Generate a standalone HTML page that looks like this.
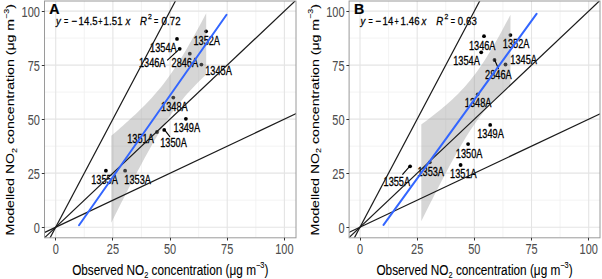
<!DOCTYPE html>
<html><head><meta charset="utf-8"><style>
html,body{margin:0;padding:0;background:#fff;width:602px;height:279px;overflow:hidden;position:relative}
svg text{font-family:"Liberation Sans",sans-serif;stroke-width:0.22px}
</style></head><body>
<svg width="602" height="279" viewBox="0 0 602 279" style="position:absolute;left:0;top:0">
<defs>
<clipPath id="clipA"><rect x="44.5" y="1.0" width="251.5" height="236.8"/></clipPath>
<clipPath id="clipB"><rect x="349.1" y="1.0" width="250.89999999999998" height="236.8"/></clipPath>
</defs>
<rect width="602" height="279" fill="#fff"/>
<g clip-path="url(#clipA)">
<line x1="84.29" y1="1.0" x2="84.29" y2="237.8" stroke="#F0F0F0" stroke-width="0.8"/>
<line x1="44.5" y1="200.19" x2="296.0" y2="200.19" stroke="#F0F0F0" stroke-width="0.8"/>
<line x1="141.46" y1="1.0" x2="141.46" y2="237.8" stroke="#F0F0F0" stroke-width="0.8"/>
<line x1="44.5" y1="146.16" x2="296.0" y2="146.16" stroke="#F0F0F0" stroke-width="0.8"/>
<line x1="198.64" y1="1.0" x2="198.64" y2="237.8" stroke="#F0F0F0" stroke-width="0.8"/>
<line x1="44.5" y1="92.14" x2="296.0" y2="92.14" stroke="#F0F0F0" stroke-width="0.8"/>
<line x1="255.81" y1="1.0" x2="255.81" y2="237.8" stroke="#F0F0F0" stroke-width="0.8"/>
<line x1="44.5" y1="38.11" x2="296.0" y2="38.11" stroke="#F0F0F0" stroke-width="0.8"/>
<line x1="55.70" y1="1.0" x2="55.70" y2="237.8" stroke="#E4E4E4" stroke-width="1.1"/>
<line x1="44.5" y1="227.20" x2="296.0" y2="227.20" stroke="#E4E4E4" stroke-width="1.1"/>
<line x1="112.88" y1="1.0" x2="112.88" y2="237.8" stroke="#E4E4E4" stroke-width="1.1"/>
<line x1="44.5" y1="173.17" x2="296.0" y2="173.17" stroke="#E4E4E4" stroke-width="1.1"/>
<line x1="170.05" y1="1.0" x2="170.05" y2="237.8" stroke="#E4E4E4" stroke-width="1.1"/>
<line x1="44.5" y1="119.15" x2="296.0" y2="119.15" stroke="#E4E4E4" stroke-width="1.1"/>
<line x1="227.23" y1="1.0" x2="227.23" y2="237.8" stroke="#E4E4E4" stroke-width="1.1"/>
<line x1="44.5" y1="65.12" x2="296.0" y2="65.12" stroke="#E4E4E4" stroke-width="1.1"/>
<line x1="284.40" y1="1.0" x2="284.40" y2="237.8" stroke="#E4E4E4" stroke-width="1.1"/>
<line x1="44.5" y1="11.10" x2="296.0" y2="11.10" stroke="#E4E4E4" stroke-width="1.1"/>
<circle cx="206.1" cy="31.3" r="1.9" fill="#000"/>
<circle cx="177.0" cy="38.9" r="1.9" fill="#000"/>
<circle cx="179.7" cy="48.8" r="1.9" fill="#000"/>
<circle cx="189.8" cy="53.7" r="1.9" fill="#000"/>
<circle cx="201.4" cy="64.6" r="1.9" fill="#000"/>
<circle cx="173.3" cy="97.6" r="1.9" fill="#000"/>
<circle cx="185.9" cy="118.8" r="1.9" fill="#000"/>
<circle cx="157.0" cy="132.0" r="1.9" fill="#000"/>
<circle cx="164.2" cy="129.9" r="1.9" fill="#000"/>
<circle cx="105.9" cy="170.7" r="1.9" fill="#000"/>
<circle cx="125.1" cy="170.7" r="1.9" fill="#000"/>
<polygon points="111.27,135.81 113.65,133.77 116.02,131.72 118.39,129.65 120.77,127.57 123.14,125.47 125.51,123.35 127.88,121.21 130.26,119.05 132.63,116.86 135.00,114.64 137.37,112.38 139.75,110.09 142.12,107.76 144.49,105.38 146.87,102.94 149.24,100.45 151.61,97.89 153.98,95.27 156.36,92.56 158.73,89.76 161.10,86.88 163.47,83.89 165.85,80.79 168.22,77.58 170.59,74.26 172.97,70.83 175.34,67.28 177.71,63.61 180.08,59.85 182.46,55.97 184.83,52.01 187.20,47.96 189.58,43.82 191.95,39.62 194.32,35.34 196.69,31.01 199.07,26.63 201.44,22.20 203.81,17.72 206.18,13.21 206.18,74.43 203.81,76.69 201.44,78.99 199.07,81.33 196.69,83.72 194.32,86.15 191.95,88.65 189.58,91.22 187.20,93.86 184.83,96.57 182.46,99.38 180.08,102.28 177.71,105.28 175.34,108.39 172.97,111.61 170.59,114.95 168.22,118.40 165.85,121.96 163.47,125.63 161.10,129.42 158.73,133.30 156.36,137.27 153.98,141.34 151.61,145.48 149.24,149.70 146.87,153.98 144.49,158.31 142.12,162.70 139.75,167.14 137.37,171.62 135.00,176.14 132.63,180.69 130.26,185.27 127.88,189.87 125.51,194.50 123.14,199.16 120.77,203.83 118.39,208.52 116.02,213.22 113.65,217.94 111.27,222.67" fill="#999999" fill-opacity="0.4"/>
<text transform="translate(206.70,44.88) scale(1,1.3)" text-anchor="middle" font-size="9.2" fill="#000" stroke="#000" >1352A</text>
<text transform="translate(163.40,51.88) scale(1,1.3)" text-anchor="middle" font-size="9.2" fill="#000" stroke="#000" >1354A</text>
<line x1="178.3" y1="50.2" x2="167.2" y2="60.3" stroke="#000" stroke-width="1.1"/>
<text transform="translate(152.20,67.18) scale(1,1.3)" text-anchor="middle" font-size="9.2" fill="#000" stroke="#000" >1346A</text>
<text transform="translate(184.80,67.18) scale(1,1.3)" text-anchor="middle" font-size="9.2" fill="#000" stroke="#000" >2846A</text>
<text transform="translate(218.50,75.48) scale(1,1.3)" text-anchor="middle" font-size="9.2" fill="#000" stroke="#000" >1345A</text>
<text transform="translate(174.40,111.28) scale(1,1.3)" text-anchor="middle" font-size="9.2" fill="#000" stroke="#000" >1348A</text>
<text transform="translate(186.80,132.28) scale(1,1.3)" text-anchor="middle" font-size="9.2" fill="#000" stroke="#000" >1349A</text>
<text transform="translate(140.50,143.38) scale(1,1.3)" text-anchor="middle" font-size="9.2" fill="#000" stroke="#000" >1351A</text>
<line x1="164.2" y1="129.4" x2="170.0" y2="136.8" stroke="#000" stroke-width="1.1"/>
<text transform="translate(173.50,147.18) scale(1,1.3)" text-anchor="middle" font-size="9.2" fill="#000" stroke="#000" >1350A</text>
<text transform="translate(104.50,183.58) scale(1,1.3)" text-anchor="middle" font-size="9.2" fill="#000" stroke="#000" >1355A</text>
<text transform="translate(137.60,183.58) scale(1,1.3)" text-anchor="middle" font-size="9.2" fill="#000" stroke="#000" >1353A</text>
<line x1="32.83" y1="270.42" x2="307.27" y2="-248.22" stroke="#1a1a1a" stroke-width="1.2"/>
<line x1="32.83" y1="248.81" x2="307.27" y2="-10.51" stroke="#1a1a1a" stroke-width="1.2"/>
<line x1="32.83" y1="238.00" x2="307.27" y2="108.34" stroke="#1a1a1a" stroke-width="1.2"/>
<line x1="79.03" y1="225.25" x2="226.54" y2="14.78" stroke="#3366FF" stroke-width="2" stroke-linecap="round"/>
</g>
<rect x="44.5" y="1.0" width="251.5" height="236.8" fill="none" stroke="#9A9A9A" stroke-width="1"/>
<line x1="41.8" y1="227.5" x2="44.5" y2="227.5" stroke="#333333" stroke-width="1"/>
<line x1="55.5" y1="237.8" x2="55.5" y2="240.5" stroke="#333333" stroke-width="1"/>
<text transform="translate(39.90,233.02) scale(1,1.3)" text-anchor="end" font-size="11.0" fill="#4D4D4D" stroke="#4D4D4D" style="stroke-width:0.05px">0</text>
<text transform="translate(55.70,253.72) scale(1,1.3)" text-anchor="middle" font-size="11.0" fill="#4D4D4D" stroke="#4D4D4D" style="stroke-width:0.05px">0</text>
<line x1="41.8" y1="173.5" x2="44.5" y2="173.5" stroke="#333333" stroke-width="1"/>
<line x1="112.5" y1="237.8" x2="112.5" y2="240.5" stroke="#333333" stroke-width="1"/>
<text transform="translate(39.90,178.99) scale(1,1.3)" text-anchor="end" font-size="11.0" fill="#4D4D4D" stroke="#4D4D4D" style="stroke-width:0.05px">25</text>
<text transform="translate(112.88,253.72) scale(1,1.3)" text-anchor="middle" font-size="11.0" fill="#4D4D4D" stroke="#4D4D4D" style="stroke-width:0.05px">25</text>
<line x1="41.8" y1="119.5" x2="44.5" y2="119.5" stroke="#333333" stroke-width="1"/>
<line x1="170.5" y1="237.8" x2="170.5" y2="240.5" stroke="#333333" stroke-width="1"/>
<text transform="translate(39.90,124.97) scale(1,1.3)" text-anchor="end" font-size="11.0" fill="#4D4D4D" stroke="#4D4D4D" style="stroke-width:0.05px">50</text>
<text transform="translate(170.05,253.72) scale(1,1.3)" text-anchor="middle" font-size="11.0" fill="#4D4D4D" stroke="#4D4D4D" style="stroke-width:0.05px">50</text>
<line x1="41.8" y1="65.5" x2="44.5" y2="65.5" stroke="#333333" stroke-width="1"/>
<line x1="227.5" y1="237.8" x2="227.5" y2="240.5" stroke="#333333" stroke-width="1"/>
<text transform="translate(39.90,70.94) scale(1,1.3)" text-anchor="end" font-size="11.0" fill="#4D4D4D" stroke="#4D4D4D" style="stroke-width:0.05px">75</text>
<text transform="translate(227.23,253.72) scale(1,1.3)" text-anchor="middle" font-size="11.0" fill="#4D4D4D" stroke="#4D4D4D" style="stroke-width:0.05px">75</text>
<line x1="41.8" y1="11.5" x2="44.5" y2="11.5" stroke="#333333" stroke-width="1"/>
<line x1="284.5" y1="237.8" x2="284.5" y2="240.5" stroke="#333333" stroke-width="1"/>
<text transform="translate(39.90,16.92) scale(1,1.3)" text-anchor="end" font-size="11.0" fill="#4D4D4D" stroke="#4D4D4D" style="stroke-width:0.05px">100</text>
<text transform="translate(284.40,253.72) scale(1,1.3)" text-anchor="middle" font-size="11.0" fill="#4D4D4D" stroke="#4D4D4D" style="stroke-width:0.05px">100</text>
<text transform="translate(49.30,14.20) scale(1,1.03)" text-anchor="start" font-size="14.2" fill="#000" stroke="#000" font-weight="bold">A</text>
<text transform="translate(56.10,24.50) scale(1.0,1.15)" font-size="9.6" fill="#000" stroke="#000" font-style="italic" >y</text>
<text transform="translate(64.00,24.50) scale(0.75,1.15)" font-size="9.6" fill="#000" stroke="#000"  >=</text>
<text transform="translate(71.60,24.50) scale(1.0,1.15)" font-size="9.6" fill="#000" stroke="#000"  >−</text>
<text transform="translate(78.50,24.50) scale(1.0,1.15)" font-size="9.6" fill="#000" stroke="#000"  letter-spacing="0.15">14.5</text>
<text transform="translate(98.20,24.50) scale(0.75,1.15)" font-size="9.6" fill="#000" stroke="#000"  >+</text>
<text transform="translate(103.40,24.50) scale(1.0,1.15)" font-size="9.6" fill="#000" stroke="#000"  letter-spacing="0.15">1.51</text>
<text transform="translate(125.60,24.50) scale(1.0,1.15)" font-size="9.6" fill="#000" stroke="#000" font-style="italic" >x</text>
<text transform="translate(139.90,24.50) scale(1.0,1.15)" font-size="9.6" fill="#000" stroke="#000" font-style="italic" >R</text>
<text transform="translate(147.90,18.90) scale(1,1.15)" font-size="6.8" fill="#000" stroke="#000">2</text>
<text transform="translate(153.90,24.50) scale(0.75,1.15)" font-size="9.6" fill="#000" stroke="#000"  >=</text>
<text transform="translate(161.40,24.50) scale(1.0,1.15)" font-size="9.6" fill="#000" stroke="#000"  letter-spacing="0.15">0.72</text>
<text transform="translate(170.25,274.6) scale(1,1.19)" text-anchor="middle" font-size="11.8" fill="#000" stroke="#000" style="stroke-width:0.08px">Observed NO<tspan dy="2.6" font-size="7.4">2</tspan><tspan dy="-2.6"> concentration (μg m</tspan><tspan dy="-5.2" font-size="7.4">−3</tspan><tspan dy="5.2">)</tspan></text>
<text transform="translate(14.00,119.70) rotate(-90) scale(1.198,1)" text-anchor="middle" font-size="11.8" fill="#000" stroke="#000" style="stroke-width:0.08px">Modelled NO<tspan dy="2.6" font-size="7.4">2</tspan><tspan dy="-2.6"> concentration (μg m</tspan><tspan dy="-5.2" font-size="7.4">−3</tspan><tspan dy="5.2">)</tspan></text>
<g clip-path="url(#clipB)">
<line x1="388.59" y1="1.0" x2="388.59" y2="237.8" stroke="#F0F0F0" stroke-width="0.8"/>
<line x1="349.1" y1="200.19" x2="600.0" y2="200.19" stroke="#F0F0F0" stroke-width="0.8"/>
<line x1="445.76" y1="1.0" x2="445.76" y2="237.8" stroke="#F0F0F0" stroke-width="0.8"/>
<line x1="349.1" y1="146.16" x2="600.0" y2="146.16" stroke="#F0F0F0" stroke-width="0.8"/>
<line x1="502.94" y1="1.0" x2="502.94" y2="237.8" stroke="#F0F0F0" stroke-width="0.8"/>
<line x1="349.1" y1="92.14" x2="600.0" y2="92.14" stroke="#F0F0F0" stroke-width="0.8"/>
<line x1="560.11" y1="1.0" x2="560.11" y2="237.8" stroke="#F0F0F0" stroke-width="0.8"/>
<line x1="349.1" y1="38.11" x2="600.0" y2="38.11" stroke="#F0F0F0" stroke-width="0.8"/>
<line x1="360.00" y1="1.0" x2="360.00" y2="237.8" stroke="#E4E4E4" stroke-width="1.1"/>
<line x1="349.1" y1="227.20" x2="600.0" y2="227.20" stroke="#E4E4E4" stroke-width="1.1"/>
<line x1="417.18" y1="1.0" x2="417.18" y2="237.8" stroke="#E4E4E4" stroke-width="1.1"/>
<line x1="349.1" y1="173.17" x2="600.0" y2="173.17" stroke="#E4E4E4" stroke-width="1.1"/>
<line x1="474.35" y1="1.0" x2="474.35" y2="237.8" stroke="#E4E4E4" stroke-width="1.1"/>
<line x1="349.1" y1="119.15" x2="600.0" y2="119.15" stroke="#E4E4E4" stroke-width="1.1"/>
<line x1="531.52" y1="1.0" x2="531.52" y2="237.8" stroke="#E4E4E4" stroke-width="1.1"/>
<line x1="349.1" y1="65.12" x2="600.0" y2="65.12" stroke="#E4E4E4" stroke-width="1.1"/>
<line x1="588.70" y1="1.0" x2="588.70" y2="237.8" stroke="#E4E4E4" stroke-width="1.1"/>
<line x1="349.1" y1="11.10" x2="600.0" y2="11.10" stroke="#E4E4E4" stroke-width="1.1"/>
<circle cx="484.0" cy="36.2" r="1.9" fill="#000"/>
<circle cx="510.4" cy="35.1" r="1.9" fill="#000"/>
<circle cx="481.2" cy="52.3" r="1.9" fill="#000"/>
<circle cx="505.5" cy="64.5" r="1.9" fill="#000"/>
<circle cx="494.5" cy="60.0" r="1.9" fill="#000"/>
<circle cx="477.6" cy="94.4" r="1.9" fill="#000"/>
<circle cx="490.2" cy="124.9" r="1.9" fill="#000"/>
<circle cx="468.1" cy="144.1" r="1.9" fill="#000"/>
<circle cx="460.6" cy="165.0" r="1.9" fill="#000"/>
<circle cx="429.8" cy="162.3" r="1.9" fill="#000"/>
<circle cx="410.1" cy="166.3" r="1.9" fill="#000"/>
<polygon points="421.29,124.49 423.52,122.85 425.75,121.19 427.98,119.51 430.21,117.82 432.44,116.10 434.67,114.36 436.90,112.59 439.13,110.80 441.36,108.97 443.59,107.11 445.82,105.20 448.05,103.26 450.28,101.26 452.51,99.21 454.74,97.10 456.97,94.93 459.20,92.69 461.43,90.37 463.66,87.96 465.89,85.47 468.12,82.87 470.35,80.18 472.58,77.37 474.81,74.46 477.04,71.43 479.27,68.29 481.50,65.03 483.73,61.67 485.96,58.20 488.19,54.62 490.42,50.95 492.65,47.19 494.88,43.35 497.11,39.43 499.34,35.44 501.57,31.38 503.80,27.27 506.02,23.10 508.25,18.89 510.48,14.64 510.48,85.07 508.25,86.96 506.02,88.90 503.80,90.89 501.57,92.93 499.34,95.03 497.11,97.19 494.88,99.42 492.65,101.73 490.42,104.12 488.19,106.60 485.96,109.18 483.73,111.86 481.50,114.65 479.27,117.55 477.04,120.56 474.81,123.68 472.58,126.92 470.35,130.27 468.12,133.72 465.89,137.28 463.66,140.94 461.43,144.69 459.20,148.52 456.97,152.43 454.74,156.41 452.51,160.45 450.28,164.56 448.05,168.71 445.82,172.92 443.59,177.17 441.36,181.46 439.13,185.78 436.90,190.14 434.67,194.52 432.44,198.93 430.21,203.37 427.98,207.83 425.75,212.30 423.52,216.80 421.29,221.31" fill="#999999" fill-opacity="0.4"/>
<text transform="translate(482.20,49.78) scale(1,1.3)" text-anchor="middle" font-size="9.2" fill="#000" stroke="#000" >1346A</text>
<text transform="translate(516.10,48.28) scale(1,1.3)" text-anchor="middle" font-size="9.2" fill="#000" stroke="#000" >1352A</text>
<text transform="translate(466.50,65.08) scale(1,1.3)" text-anchor="middle" font-size="9.2" fill="#000" stroke="#000" >1354A</text>
<text transform="translate(523.60,64.38) scale(1,1.3)" text-anchor="middle" font-size="9.2" fill="#000" stroke="#000" >1345A</text>
<line x1="494.5" y1="59.5" x2="498.6" y2="69.0" stroke="#000" stroke-width="1.1"/>
<text transform="translate(498.40,78.78) scale(1,1.3)" text-anchor="middle" font-size="9.2" fill="#000" stroke="#000" >2846A</text>
<text transform="translate(478.10,107.28) scale(1,1.3)" text-anchor="middle" font-size="9.2" fill="#000" stroke="#000" >1348A</text>
<text transform="translate(490.50,138.28) scale(1,1.3)" text-anchor="middle" font-size="9.2" fill="#000" stroke="#000" >1349A</text>
<text transform="translate(469.10,157.58) scale(1,1.3)" text-anchor="middle" font-size="9.2" fill="#000" stroke="#000" >1350A</text>
<text transform="translate(463.40,177.88) scale(1,1.3)" text-anchor="middle" font-size="9.2" fill="#000" stroke="#000" >1351A</text>
<text transform="translate(430.70,175.98) scale(1,1.3)" text-anchor="middle" font-size="9.2" fill="#000" stroke="#000" >1353A</text>
<line x1="410.1" y1="165.8" x2="402.4" y2="174.7" stroke="#000" stroke-width="1.1"/>
<text transform="translate(396.80,186.28) scale(1,1.3)" text-anchor="middle" font-size="9.2" fill="#000" stroke="#000" >1355A</text>
<line x1="337.13" y1="270.42" x2="611.57" y2="-248.22" stroke="#1a1a1a" stroke-width="1.2"/>
<line x1="337.13" y1="248.81" x2="611.57" y2="-10.51" stroke="#1a1a1a" stroke-width="1.2"/>
<line x1="337.13" y1="238.00" x2="611.57" y2="108.34" stroke="#1a1a1a" stroke-width="1.2"/>
<line x1="383.56" y1="224.96" x2="536.56" y2="13.88" stroke="#3366FF" stroke-width="2" stroke-linecap="round"/>
</g>
<rect x="349.1" y="1.0" width="250.89999999999998" height="236.8" fill="none" stroke="#9A9A9A" stroke-width="1"/>
<line x1="346.40000000000003" y1="227.5" x2="349.1" y2="227.5" stroke="#333333" stroke-width="1"/>
<line x1="360.5" y1="237.8" x2="360.5" y2="240.5" stroke="#333333" stroke-width="1"/>
<text transform="translate(344.50,233.02) scale(1,1.3)" text-anchor="end" font-size="11.0" fill="#4D4D4D" stroke="#4D4D4D" style="stroke-width:0.05px">0</text>
<text transform="translate(360.00,253.72) scale(1,1.3)" text-anchor="middle" font-size="11.0" fill="#4D4D4D" stroke="#4D4D4D" style="stroke-width:0.05px">0</text>
<line x1="346.40000000000003" y1="173.5" x2="349.1" y2="173.5" stroke="#333333" stroke-width="1"/>
<line x1="417.5" y1="237.8" x2="417.5" y2="240.5" stroke="#333333" stroke-width="1"/>
<text transform="translate(344.50,178.99) scale(1,1.3)" text-anchor="end" font-size="11.0" fill="#4D4D4D" stroke="#4D4D4D" style="stroke-width:0.05px">25</text>
<text transform="translate(417.18,253.72) scale(1,1.3)" text-anchor="middle" font-size="11.0" fill="#4D4D4D" stroke="#4D4D4D" style="stroke-width:0.05px">25</text>
<line x1="346.40000000000003" y1="119.5" x2="349.1" y2="119.5" stroke="#333333" stroke-width="1"/>
<line x1="474.5" y1="237.8" x2="474.5" y2="240.5" stroke="#333333" stroke-width="1"/>
<text transform="translate(344.50,124.97) scale(1,1.3)" text-anchor="end" font-size="11.0" fill="#4D4D4D" stroke="#4D4D4D" style="stroke-width:0.05px">50</text>
<text transform="translate(474.35,253.72) scale(1,1.3)" text-anchor="middle" font-size="11.0" fill="#4D4D4D" stroke="#4D4D4D" style="stroke-width:0.05px">50</text>
<line x1="346.40000000000003" y1="65.5" x2="349.1" y2="65.5" stroke="#333333" stroke-width="1"/>
<line x1="531.5" y1="237.8" x2="531.5" y2="240.5" stroke="#333333" stroke-width="1"/>
<text transform="translate(344.50,70.94) scale(1,1.3)" text-anchor="end" font-size="11.0" fill="#4D4D4D" stroke="#4D4D4D" style="stroke-width:0.05px">75</text>
<text transform="translate(531.52,253.72) scale(1,1.3)" text-anchor="middle" font-size="11.0" fill="#4D4D4D" stroke="#4D4D4D" style="stroke-width:0.05px">75</text>
<line x1="346.40000000000003" y1="11.5" x2="349.1" y2="11.5" stroke="#333333" stroke-width="1"/>
<line x1="588.5" y1="237.8" x2="588.5" y2="240.5" stroke="#333333" stroke-width="1"/>
<text transform="translate(344.50,16.92) scale(1,1.3)" text-anchor="end" font-size="11.0" fill="#4D4D4D" stroke="#4D4D4D" style="stroke-width:0.05px">100</text>
<text transform="translate(588.70,253.72) scale(1,1.3)" text-anchor="middle" font-size="11.0" fill="#4D4D4D" stroke="#4D4D4D" style="stroke-width:0.05px">100</text>
<text transform="translate(353.90,14.20) scale(1,1.03)" text-anchor="start" font-size="14.2" fill="#000" stroke="#000" font-weight="bold">B</text>
<text transform="translate(360.60,24.50) scale(1.0,1.15)" font-size="9.6" fill="#000" stroke="#000" font-style="italic" >y</text>
<text transform="translate(368.50,24.50) scale(0.75,1.15)" font-size="9.6" fill="#000" stroke="#000"  >=</text>
<text transform="translate(375.60,24.50) scale(1.0,1.15)" font-size="9.6" fill="#000" stroke="#000"  >−</text>
<text transform="translate(382.60,24.50) scale(1.0,1.15)" font-size="9.6" fill="#000" stroke="#000"  letter-spacing="0.15">14</text>
<text transform="translate(394.40,24.50) scale(0.75,1.15)" font-size="9.6" fill="#000" stroke="#000"  >+</text>
<text transform="translate(400.50,24.50) scale(1.0,1.15)" font-size="9.6" fill="#000" stroke="#000"  letter-spacing="0.15">1.46</text>
<text transform="translate(421.60,24.50) scale(1.0,1.15)" font-size="9.6" fill="#000" stroke="#000" font-style="italic" >x</text>
<text transform="translate(436.20,24.50) scale(1.0,1.15)" font-size="9.6" fill="#000" stroke="#000" font-style="italic" >R</text>
<text transform="translate(444.60,18.90) scale(1,1.15)" font-size="6.8" fill="#000" stroke="#000">2</text>
<text transform="translate(450.80,24.50) scale(0.75,1.15)" font-size="9.6" fill="#000" stroke="#000"  >=</text>
<text transform="translate(457.80,24.50) scale(1.0,1.15)" font-size="9.6" fill="#000" stroke="#000"  letter-spacing="0.15">0.63</text>
<text transform="translate(474.55,274.6) scale(1,1.19)" text-anchor="middle" font-size="11.8" fill="#000" stroke="#000" style="stroke-width:0.08px">Observed NO<tspan dy="2.6" font-size="7.4">2</tspan><tspan dy="-2.6"> concentration (μg m</tspan><tspan dy="-5.2" font-size="7.4">−3</tspan><tspan dy="5.2">)</tspan></text>
<text transform="translate(318.60,119.70) rotate(-90) scale(1.198,1)" text-anchor="middle" font-size="11.8" fill="#000" stroke="#000" style="stroke-width:0.08px">Modelled NO<tspan dy="2.6" font-size="7.4">2</tspan><tspan dy="-2.6"> concentration (μg m</tspan><tspan dy="-5.2" font-size="7.4">−3</tspan><tspan dy="5.2">)</tspan></text>
</svg>
</body></html>
